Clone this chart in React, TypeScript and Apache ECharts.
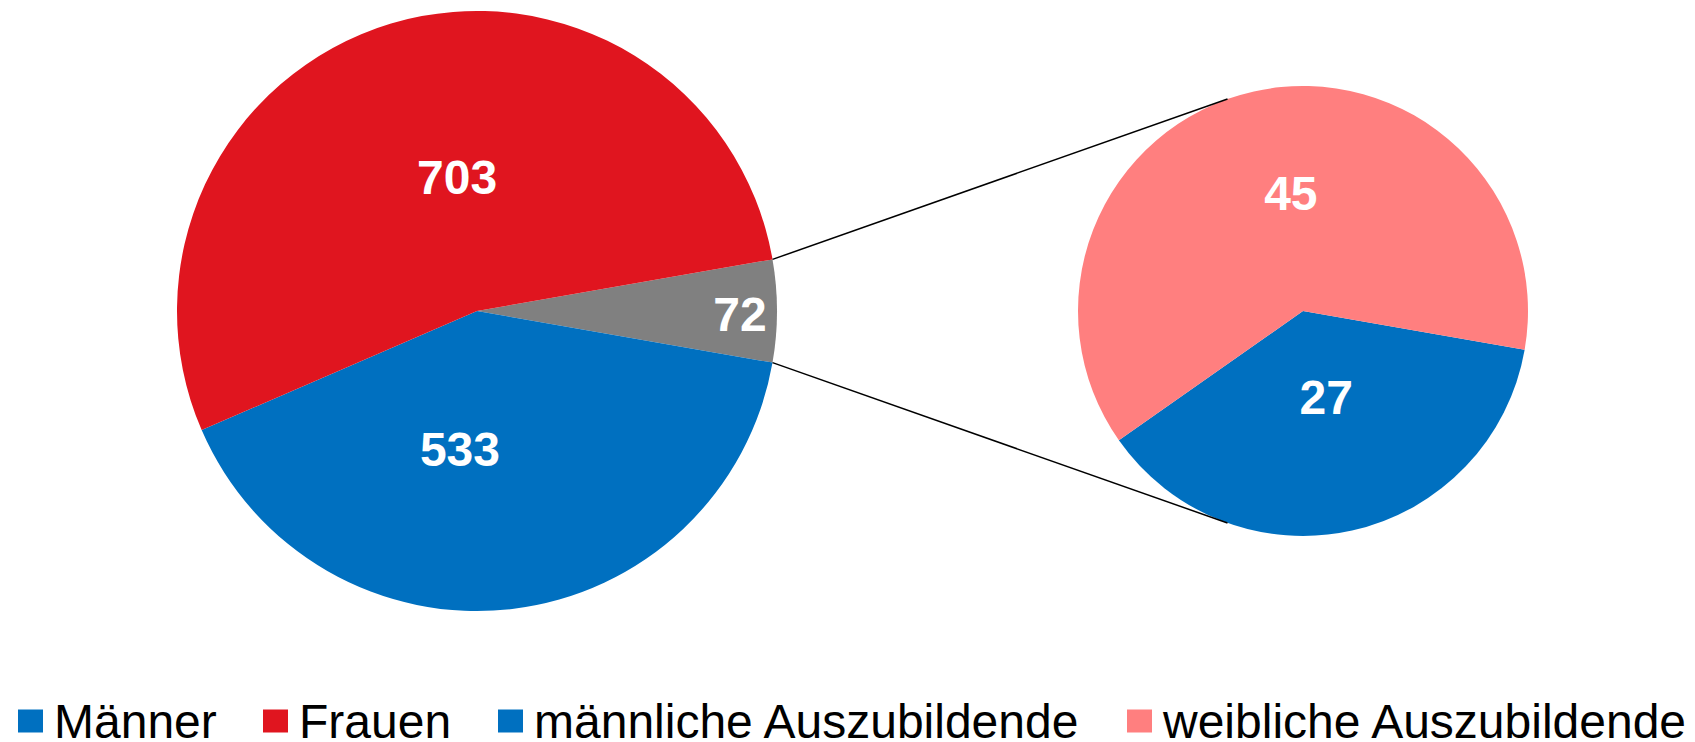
import React, { useEffect, useRef } from 'react';
import * as echarts from 'echarts';

// ---- data ----
const mainCategories = ['Auszubildende', 'Männer', 'Frauen'];
const mainValues = [72, 533, 703];
const subCategories = ['männliche Auszubildende', 'weibliche Auszubildende'];
const subValues = [27, 45];
const legendNames = ['Männer', 'Frauen', 'männliche Auszubildende', 'weibliche Auszubildende'];

// ---- styles / layout ----
const colorMap: Record<string, string> = {
  'Auszubildende': '#808080',
  'Männer': '#0070C0',
  'Frauen': '#E0151F',
  'männliche Auszubildende': '#0070C0',
  'weibliche Auszubildende': '#FF7F7F',
};
const labelOffsets: Record<string, [number, number]> = {
  'Auszubildende': [110, 3],
  'Männer': [-35, -13],
  'Frauen': [24, 13],
  'männliche Auszubildende': [-2, -26],
  'weibliche Auszubildende': [13, -5],
};
const legendLefts = [18, 263, 498, 1127];
const FONT = '"Liberation Sans", Arial, Helvetica, sans-serif';

const MAIN_C = [477, 311];
const MAIN_R = 300;
const SUB_C = [1303, 311];
const SUB_R = 225;
const CONNECT_ANGLE = 109.6; // where connectors touch the second pie

export default function App() {
  const ref = useRef<HTMLDivElement>(null);

  useEffect(() => {
    if (!ref.current) return;
    document.body.style.margin = '0';
    const chart = echarts.init(ref.current, undefined, { renderer: 'svg' });

    const total = mainValues.reduce((a, b) => a + b, 0);
    const halfAngle = (360 * mainValues[0]) / total / 2;

    const labelStyle = {
      show: true,
      position: 'inside',
      formatter: '{c}',
      color: '#ffffff',
      fontFamily: FONT,
      fontWeight: 'bold',
      fontSize: 48,
    };

    const mkData = (names: string[], vals: number[]) =>
      names.map((n, i) => ({
        name: n,
        value: vals[i],
        itemStyle: { color: colorMap[n] },
        label: { offset: labelOffsets[n] },
      }));

    const rad = (d: number) => (d * Math.PI) / 180;
    const p1Top = [MAIN_C[0] + MAIN_R * Math.cos(rad(halfAngle)), MAIN_C[1] - MAIN_R * Math.sin(rad(halfAngle))];
    const p1Bot = [MAIN_C[0] + MAIN_R * Math.cos(rad(halfAngle)), MAIN_C[1] + MAIN_R * Math.sin(rad(halfAngle))];
    const p2Top = [SUB_C[0] + SUB_R * Math.cos(rad(CONNECT_ANGLE)), SUB_C[1] - SUB_R * Math.sin(rad(CONNECT_ANGLE))];
    const p2Bot = [SUB_C[0] + SUB_R * Math.cos(rad(CONNECT_ANGLE)), SUB_C[1] + SUB_R * Math.sin(rad(CONNECT_ANGLE))];

    chart.setOption({
      animation: false,
      legend: legendNames.map((n, i) => ({
        data: [n],
        left: legendLefts[i],
        top: 697,
        padding: 0,
        icon: 'rect',
        itemWidth: 25,
        itemHeight: 23,
        selectedMode: false,
        textStyle: {
          fontFamily: FONT,
          fontSize: 48,
          lineHeight: 46,
          color: '#000000',
          padding: [0, 0, 0, 6],
        },
      })),
      series: [
        {
          type: 'pie',
          center: MAIN_C,
          radius: [0, MAIN_R],
          startAngle: halfAngle,
          clockwise: true,
          silent: true,
          label: labelStyle,
          labelLine: { show: false },
          data: mkData(mainCategories, mainValues),
        },
        {
          type: 'pie',
          center: SUB_C,
          radius: [0, SUB_R],
          startAngle: -halfAngle,
          clockwise: true,
          silent: true,
          label: labelStyle,
          labelLine: { show: false },
          data: mkData(subCategories, subValues),
        },
      ],
      graphic: [
        {
          type: 'line',
          z: 100,
          shape: { x1: p1Top[0], y1: p1Top[1], x2: p2Top[0], y2: p2Top[1] },
          style: { stroke: '#000000', lineWidth: 1.5 },
        },
        {
          type: 'line',
          z: 100,
          shape: { x1: p1Bot[0], y1: p1Bot[1], x2: p2Bot[0], y2: p2Bot[1] },
          style: { stroke: '#000000', lineWidth: 1.5 },
        },
      ],
    });

    return () => chart.dispose();
  }, []);

  return (
    <div
      ref={ref}
      style={{ position: 'absolute', left: 0, top: 0, width: 1695, height: 742, background: '#ffffff' }}
    />
  );
}
